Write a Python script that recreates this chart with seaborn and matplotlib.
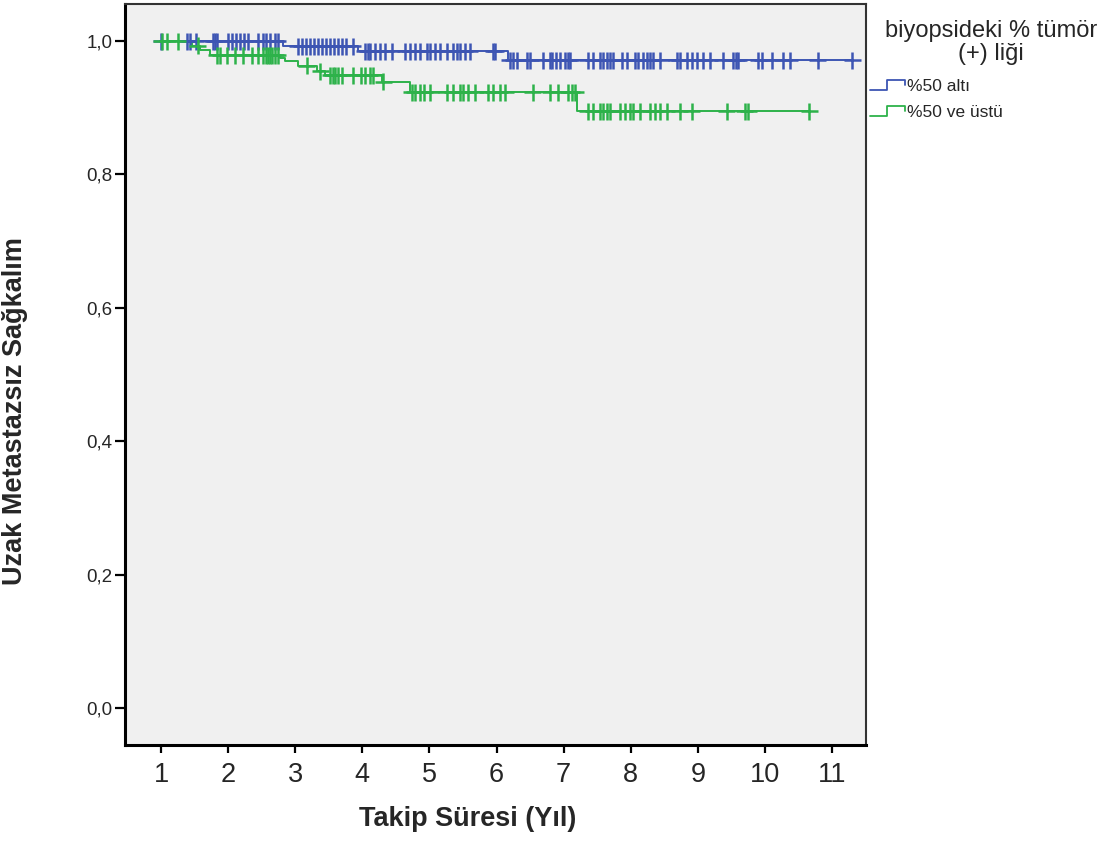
import numpy as np
import pandas as pd
import matplotlib
matplotlib.use("Agg")
import matplotlib.pyplot as plt
from matplotlib.lines import Line2D
from matplotlib.legend_handler import HandlerBase
import seaborn as sns

# Kaplan-Meier step data (follow-up in years)
groups = ["%50 altı", "%50 ve üstü"]
colors = ["#3d55b3", "#2db24a"]

start_time = 0.98

# group 1: event times and survival after each event
low_event_times = [2.82, 3.93, 6.17]
low_surv = [0.992, 0.985, 0.971]
low_censored = [1.00, 1.39, 1.43, 1.52, 1.77, 1.80, 1.83, 2.00, 2.06, 2.12, 2.18,
                2.24, 2.30, 2.45, 2.52, 2.56, 2.62, 2.70, 2.74, 3.04, 3.10, 3.16,
                3.22, 3.28, 3.34, 3.40, 3.46, 3.52, 3.58, 3.64, 3.70, 3.76, 3.86,
                4.04, 4.08, 4.11, 4.19, 4.26, 4.34, 4.44, 4.64, 4.71, 4.78, 4.86,
                4.96, 5.01, 5.08, 5.16, 5.26, 5.35, 5.41, 5.46, 5.53, 5.60, 5.95,
                5.98, 6.20, 6.25, 6.31, 6.45, 6.50, 6.69, 6.80, 6.83, 6.89, 6.95,
                7.02, 7.07, 7.10, 7.36, 7.44, 7.54, 7.59, 7.65, 7.69, 7.74, 7.87,
                7.94, 8.06, 8.11, 8.18, 8.24, 8.29, 8.33, 8.44, 8.69, 8.73, 8.84,
                8.91, 8.99, 9.08, 9.18, 9.37, 9.52, 9.57, 9.60, 9.90, 9.96, 10.11,
                10.27, 10.37, 10.79, 11.30]

# group 2
high_event_times = [1.46, 1.58, 1.73, 2.77, 2.85, 3.04, 3.32, 3.44, 4.29, 4.71, 7.20]
high_surv = [0.993, 0.986, 0.979, 0.975, 0.970, 0.963, 0.955, 0.949, 0.939, 0.923, 0.895]
high_censored = [1.01, 1.09, 1.25, 1.55, 1.83, 1.88, 1.98, 2.10, 2.22, 2.36, 2.45,
                 2.52, 2.56, 2.59, 2.62, 2.66, 2.70, 2.74, 3.17, 3.37, 3.52, 3.56,
                 3.60, 3.64, 3.70, 3.86, 3.98, 4.04, 4.11, 4.16, 4.31, 4.74, 4.78,
                 4.86, 4.92, 5.01, 5.26, 5.35, 5.46, 5.50, 5.58, 5.68, 5.87, 5.95,
                 6.05, 6.13, 6.54, 6.80, 6.91, 7.07, 7.12, 7.17, 7.36, 7.44, 7.54,
                 7.59, 7.65, 7.69, 7.84, 7.91, 7.99, 8.03, 8.14, 8.29, 8.36, 8.44,
                 8.54, 8.73, 8.91, 9.43, 9.70, 9.75, 10.66]

x_ticks = list(range(1, 12))
y_ticks = [0.0, 0.2, 0.4, 0.6, 0.8, 1.0]
y_tick_labels = ["0,0", "0,2", "0,4", "0,6", "0,8", "1,0"]

legend_title = "biyopsideki % tümör\n(+) liği"
x_label = "Takip Süresi (Yıl)"
y_label = "Uzak Metastazsız Sağkalım"


def step_frame(name, ev_t, ev_s, cens):
    t = [start_time] + list(ev_t) + [max(cens)]
    s = [1.0] + list(ev_s) + [ev_s[-1]]
    return pd.DataFrame({"grup": name, "zaman": t, "sagkalim": s})


def censor_frame(name, ev_t, ev_s, cens):
    ev_t = np.asarray(ev_t)
    levels = np.concatenate([[1.0], ev_s])
    idx = np.searchsorted(ev_t, np.asarray(cens), side="right")
    return pd.DataFrame({"grup": name, "zaman": cens, "sagkalim": levels[idx]})


lines_df = pd.concat([
    step_frame(groups[0], low_event_times, low_surv, low_censored),
    step_frame(groups[1], high_event_times, high_surv, high_censored),
], ignore_index=True)
cens_df = pd.concat([
    censor_frame(groups[0], low_event_times, low_surv, low_censored),
    censor_frame(groups[1], high_event_times, high_surv, high_censored),
], ignore_index=True)

sns.set_theme(style="white")
plt.rcParams["font.family"] = ["Liberation Sans", "DejaVu Sans"]

fig = plt.figure(figsize=(11.12, 8.43), dpi=100)
ax = fig.add_axes([125 / 1112, 1 - 745 / 843, (866 - 125) / 1112, (745 - 4) / 843])
ax.set_facecolor("#f0f0f0")

palette = dict(zip(groups, colors))
sns.lineplot(data=lines_df, x="zaman", y="sagkalim", hue="grup", palette=palette,
             drawstyle="steps-post", estimator=None, sort=False, lw=1.4,
             legend=False, ax=ax)
sns.scatterplot(data=cens_df, x="zaman", y="sagkalim", hue="grup", palette=palette,
                marker="+", s=150, linewidth=1.8, legend=False, ax=ax, zorder=3)

ax.set_xlim(0.463, 11.507)
ax.set_ylim(-0.0555, 1.0555)
ax.set_xticks(x_ticks)
ax.set_xticklabels([str(v) for v in x_ticks], fontsize=19.5)
ax.set_yticks(y_ticks)
ax.set_yticklabels(y_tick_labels, fontsize=13.5)
ax.tick_params(axis="y", direction="out", length=7, width=1.6, color="black", pad=2, left=True)
ax.tick_params(axis="x", direction="out", length=6, width=1.6, color="black", pad=6, bottom=True)

for side in ["left", "bottom"]:
    ax.spines[side].set_color("black")
    ax.spines[side].set_linewidth(2.2)
for side in ["top", "right"]:
    ax.spines[side].set_color("#333333")
    ax.spines[side].set_linewidth(1.5)

ax.set_xlabel(x_label, fontsize=19.5, fontweight="bold")
ax.set_ylabel(y_label, fontsize=19.5, fontweight="bold")
ax.xaxis.set_label_coords((468 - 125) / (866 - 125), -(806 - 745) / (745 - 4))
ax.yaxis.set_label_coords(-(125 - 28) / (866 - 125), (745 - 411) / (745 - 4))


class StepHandler(HandlerBase):
    def create_artists(self, legend, orig_handle, xdescent, ydescent, width,
                       height, fontsize, trans):
        xs = np.array([0.0, 0.5, 0.5, 1.0, 1.0]) * width - xdescent
        ys = np.array([0.1, 0.1, 0.9, 0.9, 0.5]) * height - ydescent
        ln = Line2D(xs, ys, color=orig_handle.get_color(), lw=1.3)
        ln.set_transform(trans)
        return [ln]


handles = [Line2D([], [], color=c) for c in colors]
fig.legend(handles, groups, loc="upper left",
           bbox_to_anchor=(870 / 1112, 1 - 79 / 843), frameon=False,
           fontsize=12.5, handlelength=2.0, handletextpad=0.15,
           labelspacing=0.62, borderpad=0, borderaxespad=0,
           handler_map={Line2D: StepHandler()})
fig.text(991 / 1112, 1 - 20 / 843, legend_title, ha="center", va="top",
         fontsize=17, linespacing=1.05)

fig.savefig("out.png", dpi=100, facecolor="white")
